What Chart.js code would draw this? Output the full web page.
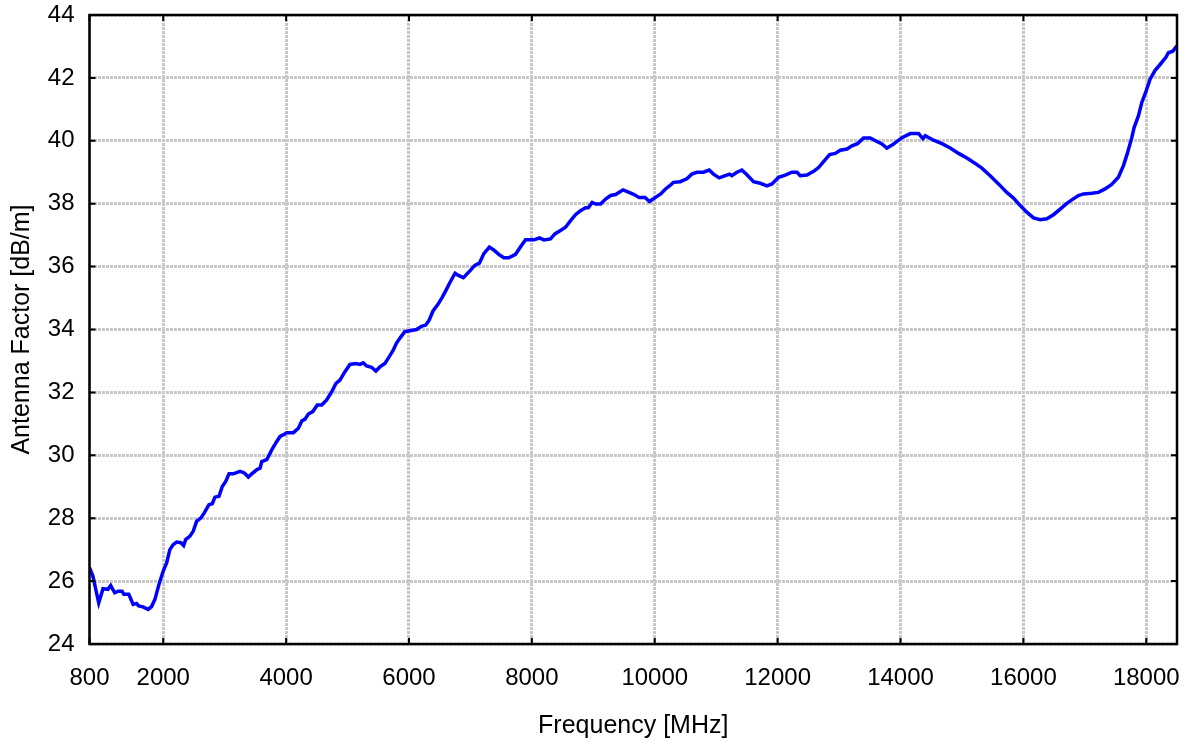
<!DOCTYPE html>
<html>
<head>
<meta charset="utf-8">
<script src="https://cdn.jsdelivr.net/npm/chart.js@4.4.1/dist/chart.umd.min.js"></script>
<style>
  html, body { margin: 0; padding: 0; background: #ffffff; }
  #wrap { width: 1192px; height: 742px; position: relative; }
  canvas { display: block; }
</style>
</head>
<body>
<div id="wrap"><canvas id="c" width="1192" height="742"></canvas></div>
<script>
// Frequency [MHz]
const frequencies = [
  800, 855, 950, 1020, 1100, 1145, 1210, 1265, 1330, 1360, 1440, 1510, 1565, 1600, 1670, 1755, 1810, 1865, 1930, 2000,
  2055, 2108, 2162, 2218, 2288, 2332, 2365, 2435, 2489, 2543, 2614, 2668, 2744, 2798, 2842, 2908, 2961, 3017, 3071, 3140,
  3250, 3320, 3385, 3440, 3522, 3576, 3604, 3685, 3766, 3848, 3902, 3972, 4010, 4118, 4200, 4255, 4308, 4362, 4434, 4508,
  4580, 4660, 4742, 4812, 4876, 4958, 5039, 5137, 5201, 5255, 5310, 5391, 5461, 5526, 5608, 5677, 5743, 5797, 5862, 5932,
  6013, 6122, 6203, 6273, 6326, 6391, 6472, 6543, 6608, 6662, 6750, 6804, 6885, 6999, 7071, 7146, 7218, 7308, 7379, 7461,
  7543, 7625, 7734, 7814, 7896, 8033, 8124, 8195, 8303, 8375, 8466, 8548, 8630, 8710, 8792, 8874, 8918, 8982, 9037, 9118,
  9200, 9282, 9363, 9484, 9582, 9664, 9745, 9842, 9914, 10018, 10097, 10171, 10260, 10305, 10414, 10522, 10603, 10685, 10793, 10885,
  10956, 11049, 11147, 11217, 11255, 11337, 11418, 11500, 11608, 11717, 11826, 11908, 12015, 12124, 12233, 12315, 12368, 12477, 12586, 12666,
  12748, 12846, 12938, 13020, 13129, 13210, 13300, 13399, 13508, 13616, 13698, 13778, 13870, 14023, 14159, 14294, 14365, 14403, 14538, 14674,
  14809, 14945, 15080, 15215, 15324, 15459, 15595, 15730, 15839, 15948, 16056, 16165, 16273, 16382, 16490, 16599, 16707, 16788, 16896, 16977,
  17113, 17221, 17329, 17437, 17546, 17628, 17692, 17764, 17802, 17872, 17926, 17997, 18062, 18144, 18235, 18322, 18360, 18431, 18500
];
// Antenna Factor [dB/m]
const antennaFactor = [
  26.43, 26.16, 25.31, 25.76, 25.74, 25.86, 25.63, 25.68, 25.68, 25.58, 25.58, 25.26, 25.29, 25.21, 25.18, 25.10, 25.19, 25.42, 25.89, 26.32,
  26.58, 27.00, 27.16, 27.24, 27.22, 27.13, 27.32, 27.43, 27.59, 27.90, 28.01, 28.17, 28.43, 28.46, 28.67, 28.70, 29.01, 29.17, 29.41, 29.41,
  29.49, 29.44, 29.31, 29.41, 29.54, 29.59, 29.80, 29.86, 30.17, 30.44, 30.60, 30.67, 30.72, 30.72, 30.86, 31.09, 31.15, 31.31, 31.39, 31.60,
  31.60, 31.76, 32.02, 32.29, 32.39, 32.66, 32.89, 32.92, 32.89, 32.94, 32.84, 32.80, 32.68, 32.81, 32.92, 33.13, 33.34, 33.57, 33.75, 33.93,
  33.96, 34.00, 34.10, 34.14, 34.29, 34.59, 34.80, 35.03, 35.27, 35.48, 35.79, 35.72, 35.65, 35.88, 36.04, 36.11, 36.41, 36.62, 36.53, 36.39,
  36.28, 36.28, 36.39, 36.62, 36.85, 36.85, 36.91, 36.85, 36.88, 37.04, 37.15, 37.25, 37.46, 37.65, 37.78, 37.87, 37.87, 38.04, 37.99, 37.99,
  38.15, 38.26, 38.29, 38.44, 38.36, 38.29, 38.20, 38.20, 38.07, 38.21, 38.31, 38.46, 38.60, 38.68, 38.70, 38.79, 38.94, 39.00, 39.00, 39.07,
  38.94, 38.82, 38.89, 38.94, 38.89, 39.00, 39.07, 38.92, 38.70, 38.65, 38.57, 38.63, 38.84, 38.91, 39.00, 39.00, 38.89, 38.91, 39.03, 39.15,
  39.34, 39.56, 39.60, 39.70, 39.74, 39.84, 39.91, 40.09, 40.09, 39.98, 39.90, 39.77, 39.87, 40.10, 40.23, 40.23, 40.07, 40.16, 40.02, 39.91,
  39.77, 39.60, 39.45, 39.28, 39.13, 38.89, 38.63, 38.36, 38.18, 37.94, 37.73, 37.55, 37.49, 37.52, 37.65, 37.83, 38.01, 38.12, 38.26, 38.31,
  38.33, 38.36, 38.47, 38.61, 38.84, 39.21, 39.60, 40.10, 40.42, 40.79, 41.21, 41.58, 41.96, 42.24, 42.45, 42.66, 42.80, 42.85, 43.02
];
const xTickValues = [800, 2000, 4000, 6000, 8000, 10000, 12000, 14000, 16000, 18000];
const yTickValues = [24, 26, 28, 30, 32, 34, 36, 38, 40, 42, 44];
const xTitle = 'Frequency [MHz]';
const yTitle = 'Antenna Factor [dB/m]';

const FONT = "'Liberation Sans', Arial, sans-serif";
const points = frequencies.map((f, i) => ({ x: f, y: antennaFactor[i] }));

const framePlugin = {
  id: 'frame',
  afterDraw(chart) {
    const ctx = chart.ctx;
    const a = chart.chartArea;
    const xs = chart.scales.x, ys = chart.scales.y;
    ctx.save();
    ctx.strokeStyle = '#000';
    ctx.lineWidth = 2.5;
    ctx.strokeRect(a.left, a.top, a.right - a.left, a.bottom - a.top);
    ctx.lineWidth = 2;
    const tl = 6;
    ctx.beginPath();
    xTickValues.forEach(v => {
      const px = xs.getPixelForValue(v);
      ctx.moveTo(px, a.bottom); ctx.lineTo(px, a.bottom - tl);
      ctx.moveTo(px, a.top); ctx.lineTo(px, a.top + tl);
    });
    yTickValues.forEach(v => {
      const py = ys.getPixelForValue(v);
      ctx.moveTo(a.left, py); ctx.lineTo(a.left + tl, py);
      ctx.moveTo(a.right, py); ctx.lineTo(a.right - tl, py);
    });
    ctx.stroke();
    // axis titles
    ctx.fillStyle = '#000';
    ctx.font = '25px ' + FONT;
    ctx.textAlign = 'center';
    ctx.textBaseline = 'alphabetic';
    ctx.fillText(xTitle, (a.left + a.right) / 2, 733);
    ctx.translate(29, (a.top + a.bottom) / 2);
    ctx.rotate(-Math.PI / 2);
    ctx.fillText(yTitle, 0, 0);
    ctx.restore();
  }
};

new Chart(document.getElementById('c'), {
  type: 'line',
  data: {
    datasets: [{
      data: points,
      borderColor: '#0000ff',
      borderWidth: 3.5,
      pointRadius: 0,
      tension: 0,
      fill: false
    }]
  },
  options: {
    responsive: false,
    animation: false,
    layout: { padding: { top: 15, right: 15, left: 0, bottom: 0 } },
    plugins: { legend: { display: false }, tooltip: { enabled: false } },
    scales: {
      x: {
        type: 'linear',
        min: 800,
        max: 18500,
        afterBuildTicks: s => { s.ticks = xTickValues.map(v => ({ value: v })); },
        afterFit: s => { s.height = 98; s.paddingLeft = 0; s.paddingRight = 0; },
        ticks: {
          autoSkip: false,
          maxRotation: 0,
          padding: 20,
          color: '#000',
          font: { family: FONT, size: 24 },
          callback: v => String(v)
        },
        grid: { color: '#c8c8c8', lineWidth: 3, drawTicks: false },
        border: { display: false, dash: [3, 1] }
      },
      y: {
        type: 'linear',
        min: 24,
        max: 44,
        afterBuildTicks: s => { s.ticks = yTickValues.map(v => ({ value: v })); },
        afterFit: s => { s.width = 89.5; s.paddingTop = 0; s.paddingBottom = 0; },
        ticks: {
          padding: 15,
          color: '#000',
          font: { family: FONT, size: 24 },
          callback: v => String(v)
        },
        grid: { color: '#c8c8c8', lineWidth: 3, drawTicks: false },
        border: { display: false, dash: [3, 1] }
      }
    }
  },
  plugins: [framePlugin]
});
</script>
</body>
</html>
